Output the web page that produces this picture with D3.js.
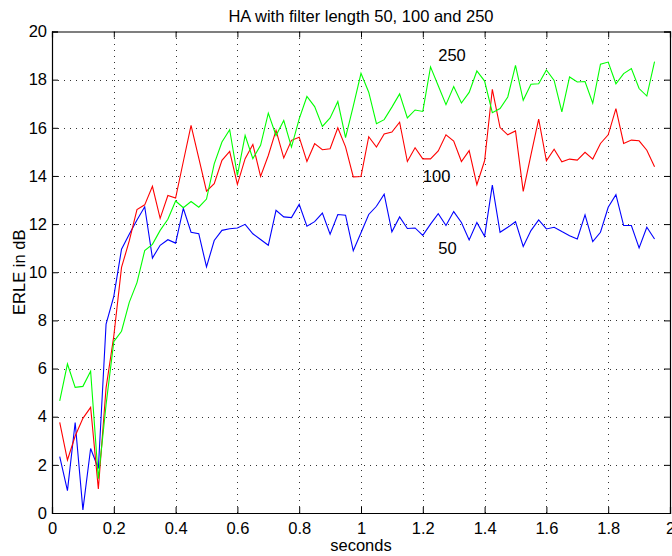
<!DOCTYPE html>
<html>
<head>
<meta charset="utf-8">
<script src="https://cdn.jsdelivr.net/npm/d3@7"></script>
<style>
  body { margin: 0; background: #fff; }
  svg { display: block; font-family: "Liberation Sans", Arial, sans-serif; }
  .axis path, .axis line { stroke: #000; }
  .axis text { font-size: 16.5px; fill: #000; }
</style>
</head>
<body>
<script>
var width = 672, height = 556;

// sample times (seconds)
var times = [
  0.025, 0.05, 0.075, 0.1, 0.125, 0.15, 0.175, 0.2, 0.225, 0.25,
  0.275, 0.3, 0.325, 0.35, 0.375, 0.4, 0.425, 0.45, 0.475, 0.5,
  0.525, 0.55, 0.575, 0.6, 0.625, 0.65, 0.675, 0.7, 0.725, 0.75,
  0.775, 0.8, 0.825, 0.85, 0.875, 0.9, 0.925, 0.95, 0.975, 1.0,
  1.025, 1.05, 1.075, 1.1, 1.125, 1.15, 1.175, 1.2, 1.225, 1.25,
  1.275, 1.3, 1.325, 1.35, 1.375, 1.4, 1.425, 1.45, 1.475, 1.5,
  1.525, 1.55, 1.575, 1.6, 1.625, 1.65, 1.675, 1.7, 1.725, 1.75,
  1.775, 1.8, 1.825, 1.85, 1.875, 1.9, 1.925, 1.95
];

// ERLE in dB, filter length 50
var erle50 = [
  2.34, 0.93, 3.76, 0.13, 2.68, 1.85, 7.85, 9.0, 10.96, 11.58,
  12.17, 12.72, 10.59, 11.12, 11.35, 11.21, 12.65, 11.66, 11.6, 10.22,
  11.32, 11.74, 11.81, 11.84, 11.99, 11.6, 11.36, 11.12, 12.57, 12.3,
  12.27, 12.82, 11.91, 12.1, 12.46, 11.58, 12.4, 12.37, 10.89, 11.64,
  12.4, 12.74, 13.24, 11.68, 12.3, 11.82, 11.84, 11.53, 12.0, 12.43,
  11.94, 12.52, 12.07, 11.34, 12.07, 11.49, 13.62, 11.66, 11.87, 12.1,
  11.07, 11.73, 12.17, 11.8, 11.87, 11.69, 11.52, 11.38, 12.38, 11.27,
  11.66, 12.7, 13.22, 11.94, 11.94, 11.01, 11.87, 11.38
];

// ERLE in dB, filter length 100
var erle100 = [
  3.76, 2.2, 3.2, 3.93, 4.39, 1.0, 5.2, 7.35, 10.2, 11.3,
  12.6, 12.8, 13.57, 12.24, 13.19, 13.08, 14.6, 16.1, 14.74, 13.37,
  13.68, 14.65, 15.02, 13.65, 14.72, 15.31, 13.98, 14.85, 15.89, 14.75,
  15.48, 15.61, 14.6, 15.34, 15.09, 15.13, 16.0, 15.21, 13.96, 13.98,
  15.63, 15.2, 15.74, 15.82, 16.23, 14.6, 15.17, 14.71, 14.71, 15.04,
  15.71, 15.45, 14.6, 15.05, 13.64, 14.63, 17.6, 16.01, 15.71, 15.87,
  13.36, 14.88, 16.36, 14.63, 15.11, 14.59, 14.7, 14.66, 14.98, 14.7,
  15.35, 15.71, 16.8, 15.35, 15.49, 15.46, 15.07, 14.38
];

// ERLE in dB, filter length 250
var erle250 = [
  4.66, 6.19, 5.22, 5.26, 5.89, 1.42, 4.5, 7.12, 7.55, 8.75,
  9.57, 10.9, 11.16, 11.74, 12.2, 12.96, 12.68, 12.94, 12.7, 13.04,
  14.5, 15.41, 15.92, 14.02, 15.68, 14.72, 15.27, 16.61, 15.68, 16.3,
  15.2, 16.37, 17.3, 16.88, 16.06, 16.41, 17.09, 15.59, 16.9, 18.26,
  17.48, 16.17, 16.34, 16.86, 17.41, 16.41, 16.74, 16.68, 18.53, 17.75,
  16.96, 17.71, 17.03, 17.47, 18.36, 17.94, 16.63, 16.8, 17.28, 18.59,
  17.14, 17.81, 17.83, 18.4, 17.97, 16.66, 18.11, 17.9, 17.92, 17.02,
  18.64, 18.73, 17.83, 18.25, 18.46, 17.63, 17.32, 18.75
];

var seriesNames = ["50", "100", "250"];
var seriesColors = ["#0000ff", "#ff0000", "#00ff00"];
var labelX = [1.25, 1.2, 1.25];
var labelY = [11, 14, 19];

var xTicks = [0, 0.2, 0.4, 0.6, 0.8, 1, 1.2, 1.4, 1.6, 1.8, 2];
var yTicks = [0, 2, 4, 6, 8, 10, 12, 14, 16, 18, 20];

// plot box (window.top is reserved, so no "top" here)
var pLeft = 52, pRight = 670, pTop = 31.5, pBottom = 513;

var x = d3.scaleLinear().domain([0, 2]).range([pLeft, pRight]);
var y = d3.scaleLinear().domain([0, 20]).range([pBottom, pTop]);

var svg = d3.select("body").append("svg")
    .attr("width", width).attr("height", height);

// dotted grid
var grid = svg.append("g").attr("class", "grid")
    .attr("stroke", "#333").attr("stroke-width", 1).attr("stroke-dasharray", "1,5");
grid.selectAll("line.gx")
    .data(xTicks.slice(1, -1))
    .enter().append("line").attr("class", "gx")
        .attr("x1", function(d){ return Math.round(x(d)) + 0.5; })
        .attr("x2", function(d){ return Math.round(x(d)) + 0.5; })
        .attr("y1", pBottom).attr("y2", pTop);
grid.selectAll("line.gy")
    .data(yTicks.slice(1, -1))
    .enter().append("line").attr("class", "gy")
        .attr("y1", function(d){ return Math.round(y(d)) + 0.5; })
        .attr("y2", function(d){ return Math.round(y(d)) + 0.5; })
        .attr("x1", pLeft).attr("x2", pRight);

// data lines
var allSeries = [erle50, erle100, erle250];
var line = d3.line()
    .x(function(d, i){ return x(times[i]); })
    .y(function(d){ return y(d); });

svg.append("g").attr("class", "lines")
    .selectAll("path")
    .data(allSeries)
    .enter().append("path")
        .attr("fill", "none")
        .attr("stroke", function(d, i){ return seriesColors[i]; })
        .attr("stroke-width", 1.1)
        .attr("d", line);

// axes, ticks inward like matlab
var fmt = d3.format("~g");
svg.append("g").attr("class", "axis")
    .attr("transform", "translate(0," + pBottom + ")")
    .call(d3.axisBottom(x).tickValues(xTicks).tickSize(-6).tickPadding(9).tickFormat(fmt));
svg.append("g").attr("class", "axis")
    .attr("transform", "translate(0," + pTop + ")")
    .call(d3.axisTop(x).tickValues(xTicks).tickSize(-6).tickFormat(""));
svg.append("g").attr("class", "axis")
    .attr("transform", "translate(" + pLeft + ",0)")
    .call(d3.axisLeft(y).tickValues(yTicks).tickSize(-6).tickPadding(5).tickFormat(fmt));
svg.append("g").attr("class", "axis")
    .attr("transform", "translate(" + pRight + ",0)")
    .call(d3.axisRight(y).tickValues(yTicks).tickSize(-6).tickFormat(""));

svg.selectAll(".axis .domain").attr("stroke-width", 1.2);
svg.selectAll(".axis text").attr("font-family", null).attr("font-size", null);

// labels on the lines
svg.append("g").selectAll("text")
    .data(seriesNames)
    .enter().append("text")
        .attr("x", function(d, i){ return x(labelX[i]); })
        .attr("y", function(d, i){ return y(labelY[i]); })
        .attr("dy", "0.35em")
        .attr("font-size", 16.5)
        .text(function(d){ return d; });

// title and axis titles
svg.append("text")
    .attr("x", (pLeft + pRight) / 2).attr("y", 22)
    .attr("text-anchor", "middle").attr("font-size", 16.5)
    .text("HA with filter length 50, 100 and 250");
svg.append("text")
    .attr("x", (pLeft + pRight) / 2).attr("y", 551)
    .attr("text-anchor", "middle").attr("font-size", 16.5)
    .text("seconds");
svg.append("text")
    .attr("transform", "translate(25," + (pTop + pBottom) / 2 + ") rotate(-90)")
    .attr("text-anchor", "middle").attr("font-size", 16.5)
    .text("ERLE in dB");
</script>
</body>
</html>
